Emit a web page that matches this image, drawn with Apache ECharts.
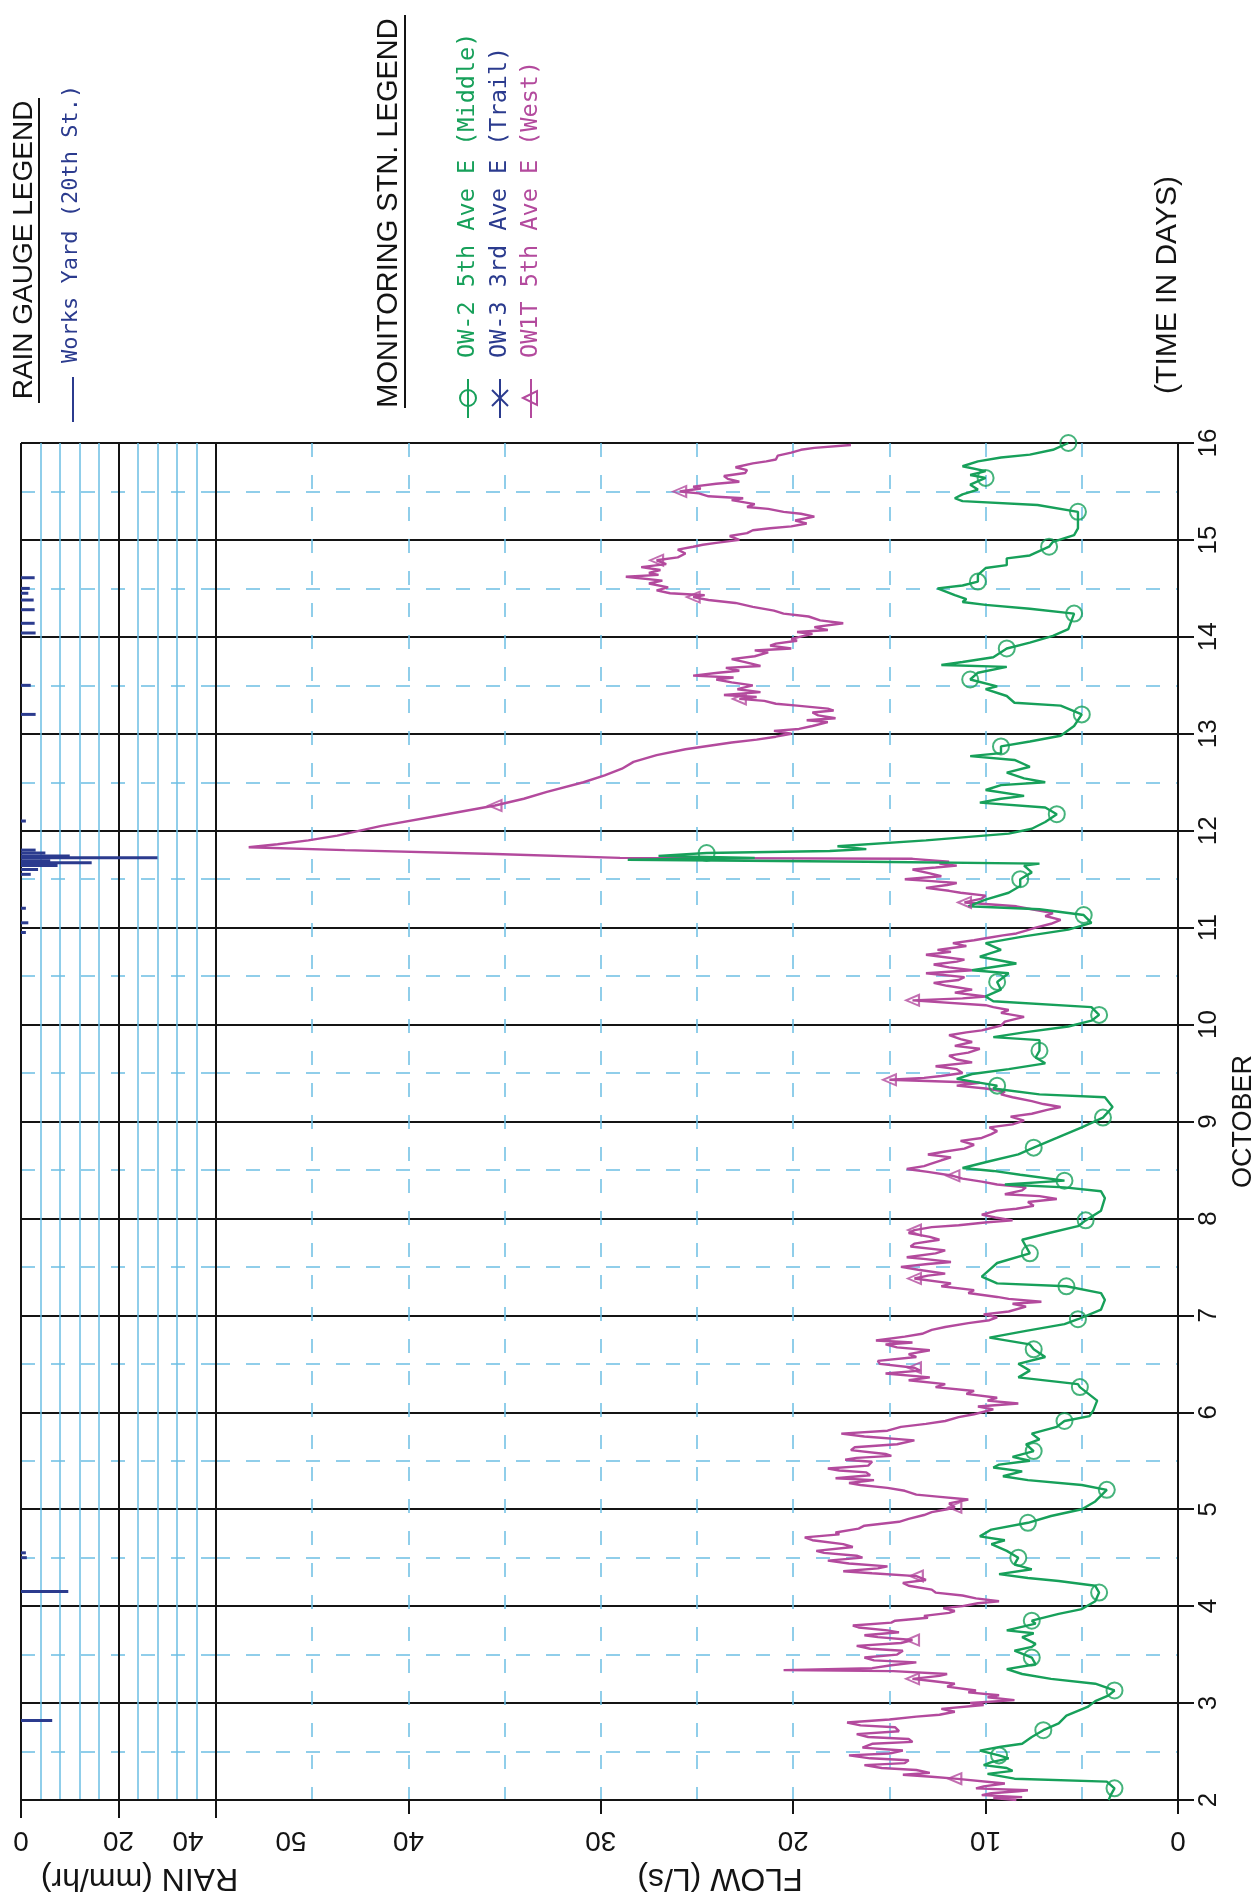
<!DOCTYPE html>
<html>
<head>
<meta charset="utf-8">
<script src="https://cdn.jsdelivr.net/npm/echarts@6/dist/echarts.min.js"></script>
<style>
  html, body { margin: 0; padding: 0; background: #fff; }
  #chart { width: 1258px; height: 1902px; }
</style>
</head>
<body>
<div id="chart"></div>
<script>
// tick values
const dayTicks = [2, 3, 4, 5, 6, 7, 8, 9, 10, 11, 12, 13, 14, 15, 16];
const flowTicks = [0, 10, 20, 30, 40, 50];
const rainTicks = [0, 20, 40];

// rain gauge, Works Yard (20th St.)  -- day, mm/hr
const rainDays = [2.82, 4.15, 4.50, 4.55, 10.95, 11.05, 11.20, 11.55, 11.60, 11.64, 11.67, 11.69, 11.72, 11.74, 11.77, 11.80, 12.10, 13.20, 13.50, 14.04, 14.14, 14.28, 14.38, 14.45, 14.50, 14.61];
const rainRate = [6.4, 9.7, 1.2, 1.0, 1.0, 1.5, 1.0, 2.0, 3.5, 7.5, 14.5, 6.0, 28.0, 10.0, 5.0, 3.0, 1.0, 3.0, 2.0, 3.0, 2.8, 2.8, 2.6, 1.5, 1.8, 2.8];

// OW-2 5th Ave E (Middle)  -- [day, L/s]
const ow2 = [[2.00,3.6],[2.05,3.5],[2.12,3.3],[2.19,3.7],[2.22,8.5],[2.27,9.9],[2.30,8.6],[2.33,8.9],[2.36,10.1],[2.39,9.7],[2.43,8.8],[2.46,9.3],[2.51,10.3],[2.55,9.2],[2.58,8.1],[2.65,7.6],[2.72,7.0],[2.79,6.2],[2.87,5.8],[2.96,4.7],[3.02,4.3],[3.08,3.6],[3.13,3.3],[3.20,4.3],[3.25,6.6],[3.30,8.1],[3.35,8.9],[3.40,7.4],[3.47,7.6],[3.54,8.5],[3.58,7.6],[3.61,7.4],[3.68,8.1],[3.72,7.5],[3.75,8.9],[3.82,7.4],[3.85,7.6],[3.92,6.2],[3.97,5.0],[4.05,4.3],[4.14,4.1],[4.21,4.3],[4.26,6.2],[4.29,7.8],[4.33,9.3],[4.38,7.6],[4.43,8.5],[4.50,8.3],[4.57,8.9],[4.64,9.7],[4.68,9.0],[4.72,10.3],[4.79,9.7],[4.86,7.8],[4.93,6.6],[5.00,5.0],[5.08,4.3],[5.20,3.7],[5.25,5.0],[5.30,7.8],[5.34,9.1],[5.39,8.1],[5.43,9.6],[5.46,9.3],[5.50,7.7],[5.54,8.6],[5.60,7.5],[5.67,7.9],[5.72,7.2],[5.78,7.6],[5.85,6.3],[5.91,5.9],[5.96,4.6],[6.02,4.4],[6.12,4.2],[6.26,5.1],[6.29,5.2],[6.36,8.3],[6.43,7.7],[6.50,8.3],[6.57,6.9],[6.65,7.5],[6.70,7.7],[6.77,9.8],[6.84,7.9],[6.91,5.9],[6.96,5.2],[7.06,4.0],[7.16,3.8],[7.23,4.0],[7.30,5.8],[7.33,9.4],[7.40,10.2],[7.47,9.8],[7.54,9.4],[7.64,7.7],[7.71,7.9],[7.78,8.1],[7.85,6.7],[7.92,5.2],[7.98,4.8],[8.08,4.0],[8.21,3.8],[8.28,4.0],[8.32,5.9],[8.35,9.0],[8.39,5.9],[8.45,8.2],[8.49,9.6],[8.52,11.2],[8.59,9.8],[8.66,8.3],[8.73,7.5],[8.83,6.3],[8.94,5.0],[9.04,3.9],[9.15,3.4],[9.25,3.8],[9.28,7.2],[9.34,9.6],[9.37,9.4],[9.44,11.5],[9.49,10.7],[9.54,8.8],[9.60,6.9],[9.66,7.4],[9.73,7.2],[9.84,7.2],[9.87,9.6],[9.92,8.0],[9.98,5.7],[10.04,4.5],[10.10,4.1],[10.18,4.5],[10.24,9.6],[10.29,10.0],[10.36,9.2],[10.44,9.4],[10.53,8.8],[10.56,10.7],[10.63,8.4],[10.70,10.3],[10.77,9.2],[10.84,10.0],[10.91,8.0],[10.98,5.7],[11.05,4.5],[11.13,4.9],[11.19,7.2],[11.22,10.9],[11.29,10.0],[11.36,8.8],[11.43,8.2],[11.50,8.2],[11.57,7.6],[11.64,8.0],[11.66,7.2],[11.68,16.2],[11.70,28.6],[11.72,22.0],[11.74,27.0],[11.77,24.5],[11.79,18.1],[11.81,16.2],[11.84,17.7],[11.90,13.1],[11.97,8.8],[12.02,7.6],[12.09,6.9],[12.17,6.3],[12.24,6.9],[12.29,10.3],[12.33,9.2],[12.36,8.0],[12.42,10.0],[12.47,9.2],[12.50,6.9],[12.54,8.0],[12.60,8.9],[12.66,7.7],[12.73,8.5],[12.77,10.8],[12.80,9.2],[12.87,9.2],[12.92,7.7],[12.98,6.1],[13.08,5.4],[13.20,5.0],[13.29,6.1],[13.32,8.5],[13.39,8.9],[13.46,10.0],[13.49,9.4],[13.56,10.8],[13.63,10.4],[13.69,8.9],[13.71,12.3],[13.74,11.2],[13.79,9.6],[13.88,8.9],[13.94,7.7],[14.01,6.5],[14.08,5.7],[14.24,5.4],[14.29,7.7],[14.33,10.0],[14.36,11.2],[14.39,11.0],[14.43,11.6],[14.50,12.5],[14.53,11.2],[14.57,10.4],[14.64,10.4],[14.71,10.0],[14.74,8.9],[14.81,8.9],[14.84,7.7],[14.93,6.7],[14.98,6.5],[15.05,5.4],[15.12,5.2],[15.29,5.2],[15.36,7.3],[15.40,11.2],[15.43,11.6],[15.47,11.2],[15.52,10.4],[15.57,10.8],[15.64,10.0],[15.67,10.8],[15.71,10.0],[15.76,11.2],[15.81,10.4],[15.85,9.2],[15.88,7.7],[15.93,6.5],[16.00,5.7]];
const ow2Marks = [[2.12,3.3],[2.46,9.3],[2.72,7.0],[3.13,3.3],[3.47,7.6],[3.85,7.6],[4.14,4.1],[4.50,8.3],[4.86,7.8],[5.20,3.7],[5.60,7.5],[5.91,5.9],[6.26,5.1],[6.65,7.5],[6.96,5.2],[7.30,5.8],[7.64,7.7],[7.98,4.8],[8.39,5.9],[8.73,7.5],[9.04,3.9],[9.37,9.4],[9.73,7.2],[10.10,4.1],[10.44,9.4],[11.13,4.9],[11.50,8.2],[11.77,24.5],[12.17,6.3],[12.87,9.2],[13.20,5.0],[13.56,10.8],[13.88,8.9],[14.24,5.4],[14.57,10.4],[14.93,6.7],[15.29,5.2],[15.64,10.0],[16.00,5.7]];

// OW-3 3rd Ave E (Trail) -- no record on this sheet
const ow3 = [];

// OW1T 5th Ave E (West)  -- [day, L/s]
const ow1t = [[2.00,8.4],[2.02,9.6],[2.03,8.1],[2.05,10.2],[2.07,9.7],[2.09,8.3],[2.10,7.8],[2.12,10.5],[2.14,10.1],[2.17,9.0],[2.19,8.9],[2.22,11.6],[2.24,12.8],[2.26,14.3],[2.28,12.9],[2.31,13.6],[2.33,15.4],[2.36,16.3],[2.38,14.2],[2.41,14.0],[2.43,16.0],[2.46,17.1],[2.48,15.0],[2.51,14.3],[2.54,16.4],[2.58,15.9],[2.60,13.8],[2.63,14.0],[2.65,16.1],[2.68,16.7],[2.71,14.5],[2.75,14.7],[2.77,16.5],[2.80,17.2],[2.83,15.0],[2.86,13.6],[2.88,12.4],[2.91,11.6],[2.94,12.3],[2.98,10.1],[3.00,10.8],
  [3.03,8.5],[3.06,9.9],[3.08,9.3],[3.11,10.9],[3.13,10.5],[3.17,12.0],[3.20,11.6],[3.23,12.9],[3.25,13.8],[3.28,12.4],[3.30,12.0],[3.33,14.8],[3.34,20.5],[3.36,15.9],[3.39,14.9],[3.42,13.6],[3.44,15.8],[3.47,16.3],[3.50,14.6],[3.54,14.3],[3.56,16.0],[3.59,16.7],[3.62,14.4],[3.65,13.8],[3.68,15.6],[3.70,16.3],[3.73,14.5],[3.75,15.1],[3.78,16.6],[3.80,16.9],[3.83,14.9],[3.85,14.7],[3.88,13.0],[3.90,13.2],[3.93,11.9],[3.95,11.6],[3.98,12.2],[4.00,11.2],[4.03,10.4],[4.05,9.3],
  [4.08,10.5],[4.11,11.2],[4.14,12.6],[4.17,12.8],[4.21,14.0],[4.24,14.3],[4.27,13.1],[4.31,13.6],[4.34,15.9],[4.36,17.4],[4.39,15.6],[4.41,15.1],[4.44,17.1],[4.47,18.2],[4.50,16.4],[4.52,16.7],[4.55,18.4],[4.57,18.8],[4.61,16.9],[4.64,17.4],[4.68,19.0],[4.71,19.4],[4.74,17.6],[4.76,17.8],[4.80,16.6],[4.83,16.3],[4.87,14.5],[4.90,14.0],[4.94,13.2],[4.97,12.8],[5.00,12.0],[5.02,11.6],[5.06,11.9],[5.10,10.9],[5.13,12.5],[5.15,13.6],[5.19,14.2],[5.22,15.1],[5.25,16.5],[5.27,17.1],[5.30,15.8],[5.32,17.8],[5.35,16.0],[5.38,16.2],[5.40,17.6],[5.42,18.2],[5.45,16.1],[5.49,15.9],[5.51,17.3],[5.53,16.7],[5.55,14.9],[5.57,15.2],[5.61,17.0],[5.64,16.8],[5.67,14.6],[5.71,13.7],[5.75,16.3],[5.78,17.5],[5.81,15.1],[5.85,14.4],[5.88,13.1],[5.91,12.1],[5.95,11.4],[5.98,10.6],[6.03,9.6],[6.06,10.4],
  [6.09,8.3],[6.12,9.9],[6.15,9.4],[6.19,11.0],[6.22,10.6],[6.26,12.6],[6.29,12.1],[6.33,14.0],[6.36,12.9],[6.40,15.2],[6.43,13.4],[6.46,13.7],[6.50,15.5],[6.53,15.6],[6.57,13.6],[6.60,14.0],[6.64,12.9],[6.67,14.6],[6.70,15.2],[6.72,13.8],[6.74,15.7],[6.78,14.2],[6.81,13.3],[6.85,12.8],[6.88,12.1],[6.92,10.9],[6.95,9.8],[6.98,9.4],
  [7.01,10.1],[7.04,8.8],[7.09,7.9],[7.12,8.6],[7.14,7.1],[7.17,8.8],[7.19,9.4],[7.23,10.9],[7.26,10.6],[7.30,12.3],[7.33,11.8],[7.38,13.7],[7.41,13.0],[7.43,12.1],[7.47,13.5],[7.50,14.4],[7.53,13.0],[7.55,11.8],[7.58,13.1],[7.60,14.1],[7.64,12.6],[7.67,12.1],[7.71,13.9],[7.74,13.7],[7.78,12.4],[7.81,12.9],[7.85,14.0],[7.88,13.7],[7.91,12.8],[7.93,11.4],[7.96,9.9],[7.98,8.6],
  [8.01,9.5],[8.04,10.2],[8.08,9.4],[8.10,8.4],[8.13,7.5],[8.17,7.8],[8.20,6.3],[8.23,7.2],[8.25,9.0],[8.29,8.1],[8.32,7.9],[8.35,9.4],[8.38,10.2],[8.41,11.2],[8.44,11.7],[8.48,13.0],[8.51,14.1],[8.54,13.2],[8.56,12.9],[8.60,12.3],[8.63,11.8],[8.66,13.0],[8.69,12.1],[8.72,11.1],[8.76,10.6],[8.80,11.3],[8.83,10.2],[8.87,9.7],[8.90,9.4],[8.94,9.8],[8.97,8.6],
  [9.01,8.0],[9.05,8.7],[9.08,7.6],[9.12,6.8],[9.15,6.1],[9.18,7.0],[9.21,7.6],[9.25,8.6],[9.28,9.2],[9.31,9.0],[9.34,10.0],[9.37,11.5],[9.40,10.3],[9.43,15.0],[9.45,13.2],[9.47,12.3],[9.50,11.2],[9.54,11.5],[9.57,12.6],[9.61,10.7],[9.64,11.5],[9.68,11.9],[9.71,10.9],[9.75,10.3],[9.78,11.6],[9.82,10.7],[9.85,11.3],[9.89,11.9],[9.92,11.0],[9.94,10.2],[9.97,9.6],[9.99,9.2],
  [10.03,9.0],[10.08,8.0],[10.12,9.2],[10.15,8.8],[10.18,9.6],[10.20,10.0],[10.25,13.8],[10.27,11.2],[10.29,10.0],[10.33,11.6],[10.36,10.7],[10.40,12.0],[10.43,12.7],[10.46,11.4],[10.49,11.1],[10.53,13.1],[10.56,10.7],[10.59,11.9],[10.62,12.7],[10.65,11.5],[10.67,11.1],[10.70,12.3],[10.72,13.1],[10.75,11.8],[10.77,12.5],[10.81,11.0],[10.84,11.7],[10.87,10.6],[10.89,10.0],[10.92,9.1],[10.94,8.4],[10.97,7.9],
  [11.00,7.4],[11.04,6.6],[11.08,6.1],[11.12,6.9],[11.15,6.5],[11.19,7.6],[11.22,8.4],[11.26,11.1],[11.30,10.2],[11.33,10.0],[11.36,11.3],[11.38,11.9],[11.41,13.1],[11.44,12.0],[11.46,11.5],[11.48,12.8],[11.50,14.2],[11.53,12.3],[11.56,12.9],[11.60,13.8],[11.62,12.6],[11.64,11.5],[11.66,12.4],[11.68,11.9],[11.71,13.8],
  [11.72,29.0],[11.76,35.5],[11.80,43.3],[11.83,48.3],[11.86,46.8],[11.90,45.2],[11.95,43.7],[12.05,41.4],[12.16,38.3],[12.26,35.5],[12.33,34.0],[12.40,32.8],[12.50,30.9],[12.57,29.8],[12.64,28.9],[12.71,28.3],[12.78,27.1],[12.84,25.6],
  [12.91,23.2],[12.94,21.9],[12.97,20.9],[13.00,20.1],[13.03,21.0],[13.05,19.7],[13.08,19.0],[13.12,18.2],[13.14,19.3],[13.16,17.8],[13.19,18.7],[13.22,19.0],[13.24,17.9],[13.26,18.2],[13.29,19.8],[13.31,20.9],[13.34,21.5],[13.36,22.8],[13.38,21.9],[13.40,23.6],[13.43,21.7],[13.46,22.9],[13.50,22.1],[13.53,23.2],[13.56,24.0],[13.58,23.1],[13.60,25.2],[13.63,23.9],[13.65,22.8],[13.68,23.5],[13.70,21.7],[13.74,22.5],[13.77,23.2],[13.80,22.0],[13.84,21.3],[13.86,22.0],[13.88,20.1],[13.91,21.2],[13.93,20.9],[13.96,19.8],[13.98,20.1],
  [14.03,19.0],[14.05,19.8],[14.07,18.2],[14.10,18.9],[14.14,17.4],[14.17,18.6],[14.21,19.2],[14.24,20.5],[14.27,21.0],[14.31,22.1],[14.35,23.0],[14.38,24.4],[14.41,25.2],[14.43,24.6],[14.45,26.4],[14.48,27.1],[14.51,26.5],[14.55,27.5],[14.58,26.8],[14.62,28.7],[14.64,27.0],[14.66,27.5],[14.69,26.9],[14.72,27.9],[14.75,26.6],[14.79,27.1],[14.82,26.0],[14.86,25.6],[14.90,26.0],[14.93,25.2],[14.95,24.7],[14.97,24.0],
  [15.00,22.8],[15.04,23.3],[15.07,22.4],[15.10,22.1],[15.12,21.2],[15.14,20.1],[15.17,19.3],[15.20,19.9],[15.24,18.9],[15.27,19.6],[15.29,20.5],[15.32,21.3],[15.34,22.4],[15.37,22.0],[15.41,23.2],[15.43,22.6],[15.45,24.4],[15.48,24.9],[15.50,25.9],[15.53,24.8],[15.55,25.2],[15.58,24.0],[15.60,22.8],[15.63,23.4],[15.66,23.6],[15.69,22.5],[15.72,22.4],[15.75,23.0],[15.79,22.1],[15.81,21.4],[15.83,20.9],[15.87,20.8],[15.90,20.1],[15.93,19.6],[15.95,18.9],[15.98,17.0]];
const ow1tMarks = [[2.22,11.6],[3.25,13.8],[3.65,13.8],[4.31,13.6],[5.02,11.6],[6.46,13.7],[7.38,13.7],[7.88,13.7],[8.44,11.7],[9.43,15.0],[10.25,13.8],[11.26,11.1],[12.26,35.5],[13.36,22.8],[14.41,25.2],[14.79,27.1],[15.50,25.9]];

const green = '#17a05a';
const magenta = '#b34a9d';
const navy = '#2b3b8e';
const gridBlue = '#6cbfe4';
const ink = '#141414';

const toXY = pts => pts.map(p => [p[1], p[0]]);

const chart = echarts.init(document.getElementById('chart'));

const dayAxis = (grid, withLabels) => ({
  type: 'value',
  gridIndex: grid,
  min: dayTicks[0],
  max: dayTicks[dayTicks.length - 1],
  interval: dayTicks[1] - dayTicks[0],
  position: 'right',
  axisLine: { show: withLabels, lineStyle: { color: ink, width: 2 } },
  axisTick: { show: withLabels, length: 16, lineStyle: { color: ink, width: 2 } },
  axisLabel: {
    show: withLabels, rotate: 90, margin: 18, fontSize: 26,
    color: ink, fontFamily: 'Liberation Sans'
  },
  minorTick: { show: false, splitNumber: 2 },
  minorSplitLine: { show: true, lineStyle: { color: gridBlue, width: 1.5, type: [14, 16] } },
  splitLine: { show: true, lineStyle: { color: ink, width: 2 } },
  name: withLabels ? 'OCTOBER' : '',
  nameLocation: 'middle',
  nameRotate: 90,
  nameGap: 42,
  nameTextStyle: { fontSize: 27, color: ink, fontFamily: 'Liberation Sans' }
});

chart.setOption({
  animation: false,
  backgroundColor: '#fff',
  textStyle: { fontFamily: 'Liberation Sans' },
  grid: [
    { left: 216, right: 80, top: 443, bottom: 102, outerBoundsMode: 'none' },
    { left: 21, width: 195, top: 443, bottom: 102, outerBoundsMode: 'none' }
  ],
  xAxis: [
    {
      type: 'value',
      gridIndex: 0,
      min: flowTicks[0],
      max: flowTicks[flowTicks.length - 1],
      interval: flowTicks[1] - flowTicks[0],
      inverse: true,
      axisLine: { lineStyle: { color: ink, width: 2 } },
      axisTick: { length: 14, lineStyle: { color: ink, width: 2 } },
      axisLabel: {
        rotate: 180, margin: 26, fontSize: 28, color: ink,
        showMinLabel: true, showMaxLabel: true,
        formatter: v => v === flowTicks[flowTicks.length - 1] ? '{far|' + v + '}' : String(v),
        rich: { far: { padding: [0, 150, 0, 0], fontSize: 28, color: ink } }
      },
      splitLine: { show: true, lineStyle: { color: gridBlue, width: 1.5, type: [14, 18] } },
      minorTick: { show: false, splitNumber: 2 },
      minorSplitLine: { show: true, lineStyle: { color: gridBlue, width: 1.5, type: [14, 18] } },
      name: 'FLOW (L/s)',
      nameLocation: 'middle',
      nameRotate: 180,
      nameGap: 62,
      nameTextStyle: { fontSize: 32, color: ink, padding: [0, 46, 0, 0] }
    },
    {
      type: 'value',
      gridIndex: 1,
      min: rainTicks[0],
      max: rainTicks[rainTicks.length - 1],
      interval: rainTicks[1] - rainTicks[0],
      axisLine: { lineStyle: { color: ink, width: 2 } },
      axisTick: { length: 18, lineStyle: { color: ink, width: 2 } },
      axisLabel: {
        rotate: 180, margin: 26, fontSize: 28, color: ink,
        showMinLabel: true, showMaxLabel: true,
        formatter: v => v === rainTicks[rainTicks.length - 1] ? '{near|' + v + '}' : String(v),
        rich: { near: { padding: [0, 0, 0, 56], fontSize: 28, color: ink } }
      },
      splitLine: { show: true, lineStyle: { color: ink, width: 2 } },
      minorTick: { show: false, splitNumber: 5 },
      minorSplitLine: { show: true, lineStyle: { color: gridBlue, width: 1.5 } },
      name: 'RAIN (mm/hr)',
      nameLocation: 'middle',
      nameRotate: 180,
      nameGap: 62,
      nameTextStyle: { fontSize: 32, color: ink, padding: [0, 42, 0, 0] }
    }
  ],
  yAxis: [dayAxis(0, true), dayAxis(1, false)],
  series: [
    {
      name: 'OW1T 5th Ave E (West)',
      type: 'line',
      xAxisIndex: 0, yAxisIndex: 0,
      data: toXY(ow1t),
      showSymbol: false,
      lineStyle: { color: magenta, width: 2.4 },
      z: 3
    },
    {
      name: 'OW-3 3rd Ave E (Trail)',
      type: 'line',
      xAxisIndex: 0, yAxisIndex: 0,
      data: toXY(ow3),
      showSymbol: false,
      lineStyle: { color: navy, width: 2 },
      z: 3
    },
    {
      name: 'OW-2 5th Ave E (Middle)',
      type: 'line',
      xAxisIndex: 0, yAxisIndex: 0,
      data: toXY(ow2),
      showSymbol: false,
      lineStyle: { color: green, width: 2.4 },
      z: 4
    },
    {
      type: 'scatter',
      xAxisIndex: 0, yAxisIndex: 0,
      data: toXY(ow1tMarks),
      symbol: 'triangle',
      symbolRotate: 90,
      symbolSize: [11, 13],
      itemStyle: { color: 'rgba(0,0,0,0)', borderColor: magenta, borderWidth: 2 },
      z: 5
    },
    {
      type: 'scatter',
      xAxisIndex: 0, yAxisIndex: 0,
      data: toXY(ow2Marks),
      symbol: 'circle',
      symbolSize: 16,
      itemStyle: { color: 'rgba(0,0,0,0)', borderColor: green, borderWidth: 2 },
      z: 6
    },
    {
      name: 'Works Yard (20th St.)',
      type: 'custom',
      xAxisIndex: 1, yAxisIndex: 1,
      data: rainDays.map((d, i) => [rainRate[i], d]),
      encode: { x: 0, y: 1 },
      renderItem: (params, api) => {
        const a = api.coord([0, api.value(1)]);
        const b = api.coord([api.value(0), api.value(1)]);
        return {
          type: 'rect',
          shape: { x: a[0], y: a[1] - 1.5, width: b[0] - a[0], height: 3 },
          style: { fill: navy }
        };
      },
      z: 5
    }
  ],
  graphic: [
    // rain gauge legend
    { type: 'text', x: 24, y: 250, rotation: Math.PI / 2,
      style: { text: 'RAIN GAUGE LEGEND', fontSize: 28, fontFamily: 'Liberation Sans', fill: ink,
               align: 'center', verticalAlign: 'middle', textAlign: 'center', textVerticalAlign: 'middle' } },
    { type: 'line', shape: { x1: 39, y1: 403, x2: 39, y2: 98 }, style: { stroke: ink, lineWidth: 2 } },
    { type: 'line', shape: { x1: 73, y1: 377, x2: 73, y2: 422 }, style: { stroke: navy, lineWidth: 2 } },
    { type: 'text', x: 71, y: 363, rotation: Math.PI / 2,
      style: { text: 'Works Yard (20th St.)', fontSize: 22, fontFamily: 'DejaVu Sans Mono', fill: navy,
               align: 'left', verticalAlign: 'middle', textAlign: 'left', textVerticalAlign: 'middle' } },
    // monitoring station legend
    { type: 'text', x: 389, y: 213, rotation: Math.PI / 2,
      style: { text: 'MONITORING STN. LEGEND', fontSize: 29, fontFamily: 'Liberation Sans', fill: ink,
               align: 'center', verticalAlign: 'middle', textAlign: 'center', textVerticalAlign: 'middle' } },
    { type: 'line', shape: { x1: 405, y1: 408, x2: 405, y2: 15 }, style: { stroke: ink, lineWidth: 2 } },

    { type: 'line', shape: { x1: 468, y1: 379, x2: 468, y2: 418 }, style: { stroke: green, lineWidth: 2 } },
    { type: 'circle', shape: { cx: 468, cy: 398, r: 8 }, style: { stroke: green, fill: 'none', lineWidth: 2 } },
    { type: 'text', x: 468, y: 358, rotation: Math.PI / 2,
      style: { text: 'OW-2 5th Ave E (Middle)', fontSize: 23.5, fontFamily: 'DejaVu Sans Mono', fill: green,
               align: 'left', verticalAlign: 'middle', textAlign: 'left', textVerticalAlign: 'middle' } },

    { type: 'line', shape: { x1: 500, y1: 379, x2: 500, y2: 418 }, style: { stroke: navy, lineWidth: 2 } },
    { type: 'line', shape: { x1: 492, y1: 390, x2: 508, y2: 406 }, style: { stroke: navy, lineWidth: 2 } },
    { type: 'line', shape: { x1: 492, y1: 406, x2: 508, y2: 390 }, style: { stroke: navy, lineWidth: 2 } },
    { type: 'text', x: 500, y: 358, rotation: Math.PI / 2,
      style: { text: 'OW-3 3rd Ave E (Trail)', fontSize: 23.5, fontFamily: 'DejaVu Sans Mono', fill: navy,
               align: 'left', verticalAlign: 'middle', textAlign: 'left', textVerticalAlign: 'middle' } },

    { type: 'line', shape: { x1: 531, y1: 379, x2: 531, y2: 418 }, style: { stroke: magenta, lineWidth: 2 } },
    { type: 'polygon', shape: { points: [[523, 398], [537, 391], [537, 405]] }, style: { stroke: magenta, fill: 'none', lineWidth: 2 } },
    { type: 'text', x: 531, y: 358, rotation: Math.PI / 2,
      style: { text: 'OW1T 5th Ave E (West)', fontSize: 23.5, fontFamily: 'DejaVu Sans Mono', fill: magenta,
               align: 'left', verticalAlign: 'middle', textAlign: 'left', textVerticalAlign: 'middle' } },

    // time axis caption
    { type: 'text', x: 1168, y: 285, rotation: Math.PI / 2,
      style: { text: '(TIME IN DAYS)', fontSize: 30, fontFamily: 'Liberation Sans', fill: ink,
               align: 'center', verticalAlign: 'middle', textAlign: 'center', textVerticalAlign: 'middle' } }
  ]
});
</script>
</body>
</html>
